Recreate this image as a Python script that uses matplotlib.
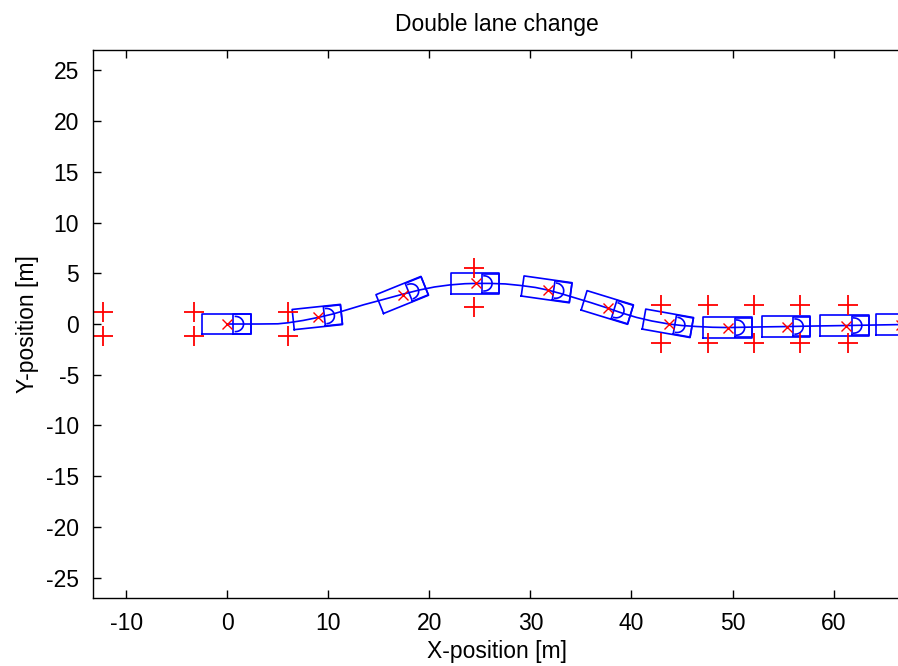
import matplotlib
matplotlib.use("Agg")
import matplotlib.pyplot as plt
import numpy as np

plt.rcParams['font.family'] = ['Liberation Sans', 'DejaVu Sans']
plt.rcParams['axes.unicode_minus'] = False

# vehicle path (m)
path_x = [0, 3, 5, 6, 7.5, 9, 10.5, 12, 13.5, 15, 17.4, 19, 20.5, 22, 23.5, 24.6, 26, 27.5, 29, 30.5, 31.7,
          33, 34.5, 36, 37.7, 39, 40.5, 42, 43.7, 45, 46.5, 48, 49.6, 52, 55.4, 58, 61.2, 64, 67]
path_y = [0, 0, 0.02, 0.12, 0.35, 0.65, 1.0, 1.45, 1.9, 2.3, 2.95, 3.35, 3.65, 3.85, 3.97, 4.0, 4.0, 3.95, 3.8,
          3.6, 3.35, 3.0, 2.55, 2.1, 1.55, 1.1, 0.65, 0.3, 0.0, -0.15, -0.25, -0.32, -0.35, -0.3, -0.25, -0.2,
          -0.15, -0.1, -0.05]

# vehicle snapshots: centre and heading (deg)
car_x = [0, 9.0, 17.4, 24.6, 31.7, 37.7, 43.7, 49.6, 55.4, 61.2, 66.7]
car_y = [0, 0.7, 2.9, 4.0, 3.4, 1.6, 0.05, -0.35, -0.25, -0.15, -0.05]
car_heading = [0, 6, 22, 0, -8, -17, -10, 0, 0, 0, 0]

# cones
cone_x = [-12.3, -12.3, -3.3, -3.3, 6.0, 6.0, 24.4, 24.4, 42.9, 42.9, 47.6, 47.6,
          52.1, 52.1, 56.7, 56.7, 61.4, 61.4]
cone_y = [1.2, -1.2, 1.2, -1.2, 1.2, -1.2, 5.5, 1.7, 1.85, -1.85, 1.85, -1.85,
          1.85, -1.85, 1.85, -1.85, 1.85, -1.85]

fig = plt.figure(figsize=(8.98, 6.66), dpi=100)
ax = fig.add_axes([0.1036, 0.1021, 0.9, 0.8228])

blue = (0, 0, 1)
red = (1, 0, 0)

ax.plot(path_x, path_y, color=blue, lw=1.2)

# car outline in local coords
body = np.array([[-2.5, -1.0], [2.3, -1.0], [2.3, 1.0], [-2.5, 1.0], [-2.5, -1.0]])
front = np.array([[0.6, -0.95], [2.3, -0.95], [2.3, 0.95], [0.6, 0.95], [0.6, -0.95]])
t = np.linspace(np.pi / 2, -np.pi / 2, 20)
arc = np.column_stack([0.8 + 0.8 * np.cos(t), 0.75 * np.sin(t)])

for cx, cy, hd in zip(car_x, car_y, car_heading):
    a = np.deg2rad(hd)
    R = np.array([[np.cos(a), -np.sin(a)], [np.sin(a), np.cos(a)]])
    for shp in (body, front, arc):
        p = shp @ R.T
        ax.plot(p[:, 0] + cx, p[:, 1] + cy, color=blue, lw=1.2)

ax.plot(car_x, car_y, 'x', color=red, ms=7, mew=1)
ax.plot(cone_x, cone_y, '+', color=red, ms=14, mew=1.3, ls='none')

ax.set_xlim(-13.3, 66.7)
ax.set_ylim(-27, 27)
ax.set_xticks(np.arange(-10, 61, 10))
ax.set_yticks(np.arange(-25, 26, 5))
ax.tick_params(direction='in', length=6, width=1, top=True, right=False, labelsize=16.5, pad=10)
for s in ax.spines.values():
    s.set_linewidth(1.0)
ax.spines['right'].set_visible(False)

ax.set_title('Double lane change', fontsize=16.5, pad=14)
ax.set_xlabel('X-position [m]', fontsize=16.5, labelpad=4)
ax.set_ylabel('Y-position [m]', fontsize=16.5, labelpad=5)

fig.savefig('out.png', dpi=100)
